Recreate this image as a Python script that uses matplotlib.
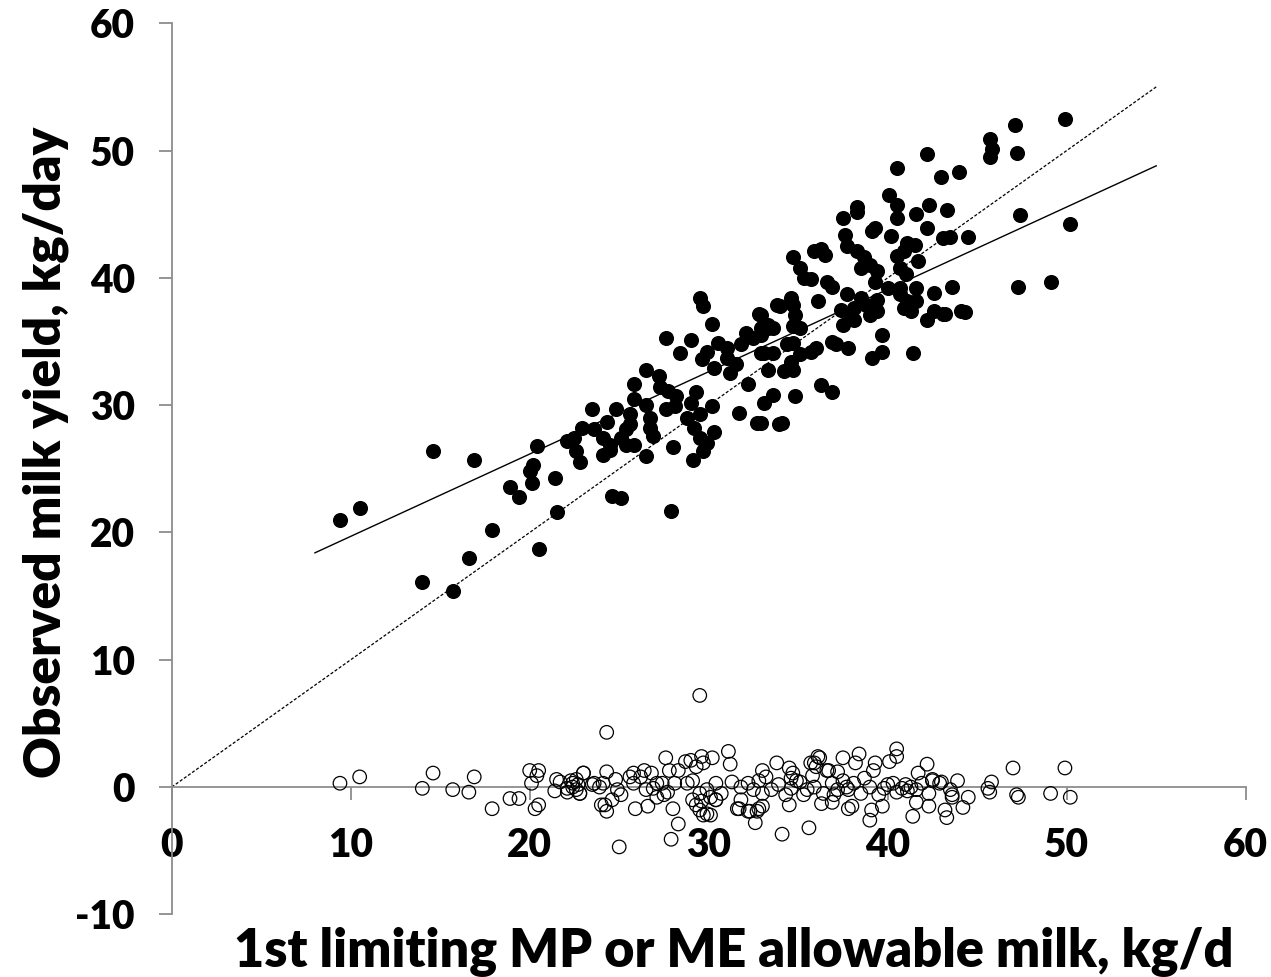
import numpy as np
import matplotlib
matplotlib.use('Agg')
import matplotlib.pyplot as plt

# observed vs allowable milk (filled)
obs_x = [9.4, 10.5, 14.0, 14.6, 15.7, 16.6, 16.9, 17.9, 18.9, 19.4, 20.0, 20.1, 20.2, 20.4, 20.5,
         21.4, 21.5, 22.1, 22.5, 22.6, 22.8, 22.9, 23.5, 23.6, 24.1, 24.1, 24.3, 24.5, 24.5, 24.6,
         24.8, 25.1, 25.1, 25.4, 25.4, 25.6, 25.6, 25.8, 25.8, 25.8, 26.5, 26.5, 26.5, 26.7, 26.7,
         26.9, 27.2, 27.3, 27.6, 27.6, 27.7, 27.9, 28.0, 28.1, 28.2, 28.4, 28.8, 29.0, 29.0, 29.1,
         29.2, 29.3, 29.5, 29.5, 29.5, 29.6, 29.7, 29.7, 29.9, 29.9, 30.2, 30.2, 30.3, 30.3, 30.5,
         31.0, 31.0, 31.2, 31.5, 31.7, 31.8, 32.1, 32.2, 32.5, 32.7, 32.8, 32.9, 32.9, 32.9, 32.9,
         32.9, 33.1, 33.1, 33.3, 33.3, 33.3, 33.6, 33.6, 33.6, 33.8, 33.9, 34.0, 34.1, 34.2, 34.4,
         34.6, 34.6, 34.7, 34.7, 34.7, 34.7, 34.7, 34.8, 34.8, 35.1, 35.1, 35.1, 35.3, 35.7, 35.7,
         35.9, 36.0, 36.1, 36.3, 36.3, 36.5, 36.6, 36.9, 36.9, 36.9, 37.1, 37.4, 37.5, 37.5, 37.6,
         37.7, 37.7, 37.8, 37.9, 38.1, 38.1, 38.3, 38.3, 38.3, 38.5, 38.5, 38.7, 38.8, 39.0, 39.0,
         39.1, 39.1, 39.3, 39.3, 39.4, 39.4, 39.4, 39.7, 39.7, 40.0, 40.1, 40.2, 40.5, 40.5, 40.5,
         40.5, 40.7, 40.7, 40.7, 40.9, 40.9, 41.0, 41.1, 41.1, 41.3, 41.4, 41.5, 41.6, 41.6, 41.6,
         41.7, 42.2, 42.2, 42.2, 42.3, 42.6, 42.6, 43.0, 43.1, 43.1, 43.2, 43.3, 43.5, 43.6, 44.0,
         44.1, 44.3, 44.5, 45.7, 45.8, 45.7, 47.1, 47.2, 47.4, 47.3, 49.1, 49.9, 50.2]
obs_y = [21.0, 21.9, 16.1, 26.4, 15.4, 18.0, 25.7, 20.2, 23.6, 22.8, 24.8, 23.9, 25.3, 26.8, 18.7,
         24.3, 21.6, 27.2, 27.4, 26.4, 25.5, 28.2, 29.7, 28.1, 27.4, 26.1, 28.7, 26.9, 26.5, 22.9,
         29.7, 22.7, 27.4, 26.9, 28.1, 29.3, 28.5, 26.9, 30.5, 31.7, 32.8, 30.0, 26.0, 29.0, 28.2,
         27.6, 32.3, 31.4, 35.3, 29.7, 31.1, 21.7, 26.7, 29.9, 30.7, 34.1, 29.0, 35.1, 30.2, 25.7,
         28.2, 31.0, 38.4, 29.3, 27.4, 33.6, 37.8, 26.4, 34.2, 27.0, 36.4, 29.9, 32.9, 27.9, 34.9,
         34.5, 33.7, 32.5, 33.2, 29.4, 34.8, 35.7, 31.7, 35.3, 28.6, 37.2, 35.5, 37.1, 36.1, 34.1,
         28.6, 34.1, 30.2, 36.1, 32.8, 36.3, 36.1, 34.1, 30.8, 37.9, 28.5, 37.8, 28.6, 32.7, 34.8,
         38.4, 33.4, 41.6, 37.9, 36.2, 34.9, 32.8, 37.1, 30.7, 40.8, 36.1, 34.0, 40.0, 39.9, 34.2,
         42.1, 34.5, 38.2, 42.3, 31.6, 41.8, 39.7, 39.3, 35.0, 31.0, 34.8, 37.5, 44.7, 36.3, 43.4,
         42.5, 38.7, 34.5, 36.8, 37.6, 36.7, 45.2, 45.6, 42.1, 38.4, 40.8, 41.6, 37.9, 41.0, 37.1,
         43.7, 33.7, 43.9, 39.7, 40.5, 38.3, 37.4, 35.5, 34.2, 39.2, 46.5, 43.3, 48.6, 45.7, 44.7,
         41.7, 40.8, 39.2, 38.7, 42.1, 37.6, 40.3, 42.7, 38.2, 37.4, 34.1, 42.6, 45.0, 39.2, 38.2,
         41.3, 49.7, 43.9, 36.7, 45.7, 38.8, 37.4, 47.9, 43.1, 37.2, 37.2, 45.3, 43.2, 39.3, 48.3,
         37.4, 37.3, 43.2, 50.9, 50.1, 49.5, 52.0, 49.8, 44.9, 39.3, 39.7, 52.5, 44.2]

# residuals (open circles)
res_x = [9.4, 10.5, 14.6, 14.0, 15.7, 16.6, 16.9, 17.9, 18.9, 19.4, 20.0, 20.5, 20.4, 20.1, 20.3,
         20.5, 21.5, 21.4, 22.1, 22.3, 22.6, 23.0, 22.4, 22.6, 22.8, 22.7, 23.6, 23.9, 24.0, 24.3,
         29.5, 27.6, 30.2, 31.1, 31.2, 33.8, 36.2, 35.9, 37.5, 24.3, 25.8, 26.4, 28.3, 29.0, 29.3,
         29.7, 33.0, 33.2, 34.5, 34.7, 34.6, 34.9, 35.7, 35.8, 36.6, 37.2, 24.2, 24.3, 24.6, 25.9,
         26.6, 28.0, 28.3, 27.9, 25.0, 29.3, 29.7, 29.1, 30.1, 30.4, 31.7, 32.2, 32.7, 33.0, 32.6,
         34.1, 35.6, 34.5, 35.3, 36.3, 36.9, 37.0, 37.8, 38.4, 38.2, 39.3, 40.1, 40.5, 40.5, 42.2,
         47.0, 49.9, 41.7, 42.5, 43.0, 43.9, 45.8, 45.6, 45.7, 47.2, 47.3, 49.1, 50.2, 44.5, 44.2,
         43.3, 43.2, 43.6, 41.4, 42.3, 41.6, 39.7, 39.0, 39.1, 38.0, 23.0, 26.8, 27.8, 28.7, 29.6,
         21.7, 22.1, 22.4, 22.8, 23.5, 24.1, 24.8, 24.9, 25.6, 25.8, 26.2, 26.5, 26.9, 27.1, 27.4,
         27.7, 28.1, 28.8, 29.1, 29.5, 29.9, 25.1, 27.1, 27.5, 29.5, 29.9, 29.6, 30.4, 30.7, 31.3,
         31.8, 32.2, 32.5, 33.0, 33.5, 33.9, 34.3, 34.6, 35.1, 35.5, 35.9, 36.4, 36.9, 37.2, 37.7,
         30.4, 31.8, 31.6, 32.3, 32.8, 30.1, 36.1, 36.0, 36.7, 32.8, 37.5, 37.8, 38.1, 38.5, 38.7,
         39.0, 39.2, 39.5, 39.8, 40.0, 40.3, 40.5, 40.8, 41.0, 41.1, 41.3, 41.6, 41.9, 42.3, 42.5,
         42.9, 43.5, 43.6]
res_y = [0.3, 0.8, 1.1, -0.1, -0.2, -0.4, 0.8, -1.7, -0.9, -0.9, 1.3, 1.3, 0.9, 0.3, -1.7,
         -1.4, 0.6, -0.3, -0.4, 0.5, 0.6, 1.1, 0.0, -0.2, -0.5, 0.2, 0.3, 0.0, -1.4, 4.3,
         7.2, 2.3, 2.3, 2.8, 1.8, 1.9, 2.3, 1.9, 2.3, 1.2, 1.1, 1.3, 1.3, 2.1, 1.6,
         1.9, 1.3, 0.8, 1.5, 1.1, 0.7, 0.5, 1.9, 0.9, 1.3, 1.2, -1.4, -1.9, -1.0, -1.7,
         -1.5, -1.7, -2.9, -4.1, -4.7, -1.4, -2.2, -1.0, -0.8, -1.0, -1.7, -1.9, -1.9, -1.5, -2.8,
         -3.7, -3.2, -1.4, -0.6, -1.3, -1.2, -0.6, -1.7, 2.6, 1.9, 1.9, 2.0, 3.0, 2.4, 1.8,
         1.5, 1.5, 1.1, 0.6, 0.4, 0.5, 0.4, -0.1, -0.4, -0.6, -0.8, -0.5, -0.8, -0.8, -1.6,
         -2.4, -1.8, -0.6, -2.3, -1.5, -1.2, -1.5, -2.6, -1.8, -1.5, 1.1, 1.1, 1.3, 2.0, 2.4,
         0.4, -0.1, 0.3, -0.5, 0.2, 0.3, 0.6, -0.2, 0.8, 0.3, 0.8, -0.2, -0.1, 0.3, 0.3,
         -0.4, 0.3, 0.3, 0.5, -0.5, -0.2, -0.6, -0.8, -0.6, -1.8, -2.1, -1.1, 0.3, -0.5, 0.4,
         0.0, 0.3, -0.2, -0.5, -0.2, 0.2, -0.6, -0.1, 0.4, -0.2, 0.0, -0.5, 0.3, -0.2, 0.0,
         -1.0, -1.0, -1.7, -1.9, -1.7, -2.2, 2.4, 1.6, 1.3, 0.5, 0.5, -0.2, 0.3, -0.5, 0.7,
         0.0, 1.3, -0.6, -0.1, 0.2, 0.3, -0.4, -0.1, 0.2, -0.3, 0.0, -0.2, 0.3, -0.5, 0.5,
         0.3, -0.2, -0.8]

fit_x = [8, 55]
fit_y = [18.4, 48.8]
unity = [0, 55]

xticks = [0, 10, 20, 30, 40, 50, 60]
yticks = [-10, 0, 10, 20, 30, 40, 50, 60]

plt.rcParams['font.family'] = ['Lato', 'DejaVu Sans']
plt.rcParams['axes.unicode_minus'] = False

fig = plt.figure(figsize=(12.71, 9.77), dpi=100)
ax = fig.add_axes([0.1351, 0.0641, 0.845, 0.9121])

ax.plot(unity, unity, color='black', lw=0.9, ls=(0, (2.5, 1.5)), zorder=2)
ax.plot(fit_x, fit_y, color='black', lw=1.0, zorder=2)
ax.scatter(obs_x, obs_y, s=118, color='black', zorder=3, linewidths=0)
ax.scatter(res_x, res_y, s=95, facecolors='none', edgecolors='black', linewidths=0.9, zorder=3)

ax.set_xlim(0, 60)
ax.set_ylim(-10, 60)
ax.set_xticks(xticks)
ax.set_yticks(yticks)

ax.spines['top'].set_visible(False)
ax.spines['right'].set_visible(False)
ax.spines['bottom'].set_position(('data', 0))
for s in ['left', 'bottom']:
    ax.spines[s].set_color('#8c8c8c')
    ax.spines[s].set_linewidth(1.3)

ax.tick_params(axis='both', colors='#8c8c8c', length=9.5, width=1.3, labelcolor='black', labelsize=28)
ax.tick_params(axis='y', direction='out', pad=17)
ax.tick_params(axis='x', direction='out', pad=19)
for lab in ax.get_xticklabels() + ax.get_yticklabels():
    lab.set_fontweight('heavy')

fig.text(0.577, 0.026, '1st limiting MP or ME allowable milk, kg/d', ha='center', va='center',
         fontsize=37.5, fontweight='heavy')
fig.text(0.036, 0.537, 'Observed milk yield, kg/day', ha='center', va='center', rotation=90,
         fontsize=37, fontweight='heavy')

fig.savefig('out.png', dpi=100, facecolor='white')
